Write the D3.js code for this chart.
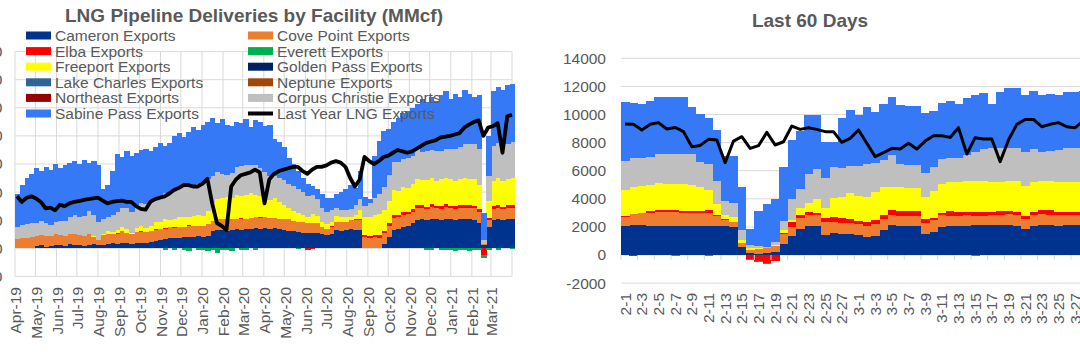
<!DOCTYPE html>
<html><head><meta charset="utf-8">
<script src="https://cdn.jsdelivr.net/npm/d3@7"></script>
<style>
html,body{margin:0;padding:0;background:#fff;overflow:hidden;}
svg{display:block;}
</style></head><body>
<svg id="c" width="1080" height="355"></svg>
<script>
// ===== LEFT CHART DATA (weekly, starting 2019-04-01) =====
const leftStart = "2019-04-01";
const monthLabels = ["Apr-19","May-19","Jun-19","Jul-19","Aug-19","Sep-19","Oct-19","Nov-19","Dec-19","Jan-20","Feb-20","Mar-20","Apr-20","May-20","Jun-20","Jul-20","Aug-20","Sep-20","Oct-20","Nov-20","Dec-20","Jan-21","Feb-21","Mar-21"];
const yTicks = [-2000,0,2000,4000,6000,8000,10000,12000,14000];

const cameronL = [0,0,20,50,150,200,120,180,250,200,
150,300,250,200,150,250,300,200,250,300,
350,300,400,350,300,400,350,400,450,500,
600,650,700,710,750,800,830,800,850,830,
900,1200,1300,1300,1250,1300,1350,1300,1350,1400,
1420,1400,1450,1400,1420,1350,1300,1250,1200,1150,
1100,1070,1070,1100,1000,950,1050,1300,1250,1300,
1350,1300,1300,0,0,0,0,300,800,1300,
1400,1500,1600,1800,2000,2050,2000,2100,2050,2000,
2100,2050,2000,2050,2100,2050,2000,1800,200,1500,
2000,2050,2000,2050,2050];
const covePointL = [650,700,700,750,700,750,750,700,750,750,
700,750,800,750,700,750,500,400,700,750,
700,750,800,750,700,750,800,750,750,800,
750,750,800,750,800,750,750,800,750,750,
800,750,800,750,800,750,750,800,750,750,
800,750,800,750,750,700,750,800,750,750,
800,750,750,700,500,450,500,600,650,600,
650,700,700,800,750,800,750,800,800,850,
800,850,850,800,850,800,800,850,800,800,
850,800,800,850,800,800,850,800,100,500,
800,850,800,800,850];
const elbaL = [0,0,0,0,0,0,0,0,0,0,
0,0,0,0,50,0,0,0,0,0,
0,50,0,0,0,0,50,0,0,50,
0,50,0,50,0,0,50,0,0,0,
50,0,0,50,0,0,0,50,0,0,
0,50,0,0,0,50,0,0,0,0,
0,-100,-50,0,0,0,50,0,0,0,
0,50,100,120,150,150,200,150,200,200,
150,200,150,200,250,200,150,200,150,200,
200,150,200,150,200,200,150,200,-500,150,
200,200,150,200,200];
const everettL = [0,0,0,0,0,0,0,0,0,0,
0,0,0,0,0,0,0,0,0,0,
0,0,0,0,0,0,0,0,0,0,
0,-100,0,-150,0,-100,-200,0,-150,-100,
-200,-100,-300,-150,-100,-200,0,-100,-150,0,
-100,0,0,0,0,0,0,0,0,-50,
0,-50,0,0,0,0,0,0,0,0,
0,0,0,0,0,0,0,0,0,0,
0,0,0,0,0,0,-100,-150,0,-100,
-150,-100,-200,-100,-150,-200,-150,-100,-200,-100,
0,-100,0,0,-50];
const freeportL = [0,0,0,0,0,0,0,0,0,0,
0,0,0,0,0,50,100,0,50,150,
100,200,300,250,100,300,400,300,400,500,
500,600,500,600,700,700,600,700,800,700,
900,1200,1400,1500,1600,1500,1700,1600,1700,1800,
1600,1500,1400,1300,1400,1200,1000,800,700,600,
500,400,600,500,400,300,300,400,300,300,
200,300,600,1300,1300,1400,1500,1500,1600,1800,
1700,1800,1700,1800,1850,1800,1900,1850,1800,1900,
1850,1900,1800,1850,1900,1850,1900,1700,0,1200,
1800,1900,1850,1900,1900];
const corpusL = [900,950,1000,1000,950,1000,900,800,900,1000,
1100,1200,1300,1300,1400,1600,1500,1300,1100,1000,
1200,1300,1400,1500,1500,1600,1600,1700,1700,1800,
1800,1900,2000,2000,2100,2100,2200,2100,2200,2300,
2300,2000,1900,1700,1600,1800,2000,2100,2100,2000,
2100,2000,1800,1700,1600,1700,1800,1700,1800,1700,
1600,1500,1400,1200,1000,900,800,600,500,500,
600,700,800,800,1000,1200,1400,1600,1800,2000,
2100,2000,2100,2000,2100,2000,2100,2000,2100,2000,
2100,2200,2300,2300,2400,2500,2500,2600,300,1800,
2500,2500,2600,2500,2600];
const sabineL = [2350,2850,3280,3500,3900,3550,4030,3920,4100,3750,
3950,3850,3850,3750,4000,3450,3800,4000,2100,2300,
3150,4100,3600,4050,4000,3750,3800,3950,3600,3550,
3850,3350,3500,3890,3850,3550,3870,4200,3800,4220,
4050,4150,3500,3900,3550,3350,3200,3050,3300,2650,
3180,3300,3250,3650,2630,2600,2350,1850,1550,1300,
1000,880,580,700,1000,1000,900,1000,1300,1500,
1700,1250,2000,600,300,3000,3800,4000,3300,2850,
3150,3250,3400,3400,3250,3750,3450,3800,3600,4000,
4100,3500,3900,3600,3900,3600,3400,3800,1900,2850,
3900,4000,3900,4150,4100];
const lastYearL = [3700,3300,3600,3700,3550,3300,2850,2900,2700,3100,
3000,3200,3300,3350,3450,3500,3550,3600,3400,3200,
3300,3350,3400,3300,3300,3000,2800,2750,3300,3500,
3600,3700,3900,4150,4300,4500,4500,4400,4400,4600,
4950,3200,1800,1600,1300,4400,4900,5200,5300,5400,
5600,5400,3200,4900,5300,5500,5600,5700,5800,5800,
5500,5300,5600,5800,5800,5900,6100,6200,6100,5800,
5000,4400,4900,6500,6200,6000,6200,6500,6600,6800,
7000,6900,6800,6900,7100,7300,7500,7600,7700,7900,
7950,8000,8100,8200,8600,8800,9000,9100,8000,8600,
8700,8900,6800,9400,9500];

// ===== RIGHT CHART DATA (daily, last 60 days) =====
const daysR = ["2-1","2-2","2-3","2-4","2-5","2-6","2-7","2-8","2-9","2-10","2-11","2-12","2-13","2-14","2-15","2-16","2-17","2-18","2-19","2-20","2-21","2-22","2-23","2-24","2-25","2-26","2-27","2-28",
"3-1","3-2","3-3","3-4","3-5","3-6","3-7","3-8","3-9","3-10","3-11","3-12","3-13","3-14","3-15","3-16","3-17","3-18","3-19","3-20","3-21","3-22","3-23","3-24","3-25","3-26","3-27","3-28"];
const cameronR = [2090,2130,2130,2060,2090,2090,2090,2060,2090,2090,2090,2060,2040,1960,550,120,70,120,240,780,1350,1850,2090,2090,1450,1540,1490,1490,1420,1300,1380,1780,2130,2060,2080,2080,1490,1610,1970,2060,2080,2080,2110,2130,2130,2130,2160,2080,1850,2080,2160,2130,2080,2110,2110,2100];
const covePointR = [640,760,830,950,950,950,950,950,870,870,890,740,450,360,280,235,360,350,400,710,660,800,730,730,870,780,760,760,760,790,800,760,720,740,720,720,760,880,880,740,720,770,690,670,720,720,730,770,690,770,730,720,770,740,740,750];
const elbaR = [30,-40,50,140,160,160,160,140,190,190,200,30,40,40,20,-300,-420,-550,-400,100,360,190,240,190,300,360,360,290,260,280,310,310,350,330,330,330,290,170,160,330,280,230,260,240,210,280,240,230,240,230,310,350,230,230,230,250];
const everettR = [-20,0,0,0,0,-20,-40,-30,0,0,-40,-20,0,0,0,-60,-70,-80,-60,-20,-20,0,0,0,0,0,0,0,0,-30,0,0,0,0,0,0,0,0,0,0,0,0,-40,0,0,0,0,0,0,0,0,0,0,0,0,0];
const freeportR = [1870,1930,1900,1830,1900,1850,1850,1880,1810,1710,1450,780,320,370,220,115,70,50,60,190,120,480,620,950,750,1350,1540,1850,1760,1780,1970,2010,1660,1690,1670,1640,1610,1890,2040,2090,2140,2190,2210,2230,2160,2090,2140,2190,2150,2140,2070,2070,2090,2140,2140,2120];
const lakeCharlesR = [0,0,0,0,0,0,0,0,0,-30,0,0,-30,0,0,0,0,0,0,0,0,0,0,0,0,0,0,0,0,0,0,0,0,-30,0,0,0,0,0,0,0,0,0,0,0,0,0,0,0,0,0,0,0,0,0,0];
const corpusR = [2050,2050,1960,2010,2080,2130,2130,2150,2220,1730,1840,1690,990,940,710,240,160,70,200,660,1470,1350,2060,2130,2130,2210,2020,1970,2130,2330,2110,1900,2260,1660,1600,1630,1660,1690,1760,1660,1660,1850,2080,2270,2370,2420,2370,2370,2420,2300,2080,2130,2300,2370,2420,2420];
const sabineR = [4200,3920,3870,3990,4090,4040,4090,4090,3370,3480,3260,3600,3220,3370,3030,1110,2470,3010,3080,3790,4220,4170,4210,3860,2520,1820,3555,3960,3630,4080,3580,3960,4100,4190,4200,4230,4300,4010,4030,4100,3870,4080,4040,3960,3160,3940,4270,4270,4040,4170,4040,4030,3890,3990,3980,4010];
const lastYearR = [9320,9300,8900,9300,9420,8970,9080,8780,7710,7800,8230,8180,6570,8110,8420,7590,7780,8730,7830,8060,9180,8940,9060,8940,8780,8780,8020,8300,8900,7950,7000,7280,7590,7540,7950,7540,8110,8490,8490,8370,9060,7190,8350,8250,8250,6640,8180,9300,9650,9650,9130,9300,9420,9130,9060,9560];

// ===== legend / series definitions =====
const legendItems = [
  ["Cameron Exports","#00338d","rect"],["Cove Point Exports","#ed7d31","rect"],
  ["Elba Exports","#ff0000","rect"],["Everett Exports","#00b050","rect"],
  ["Freeport Exports","#ffff00","rect"],["Golden Pass Exports","#002060","rect"],
  ["Lake Charles Exports","#2e6496","rect"],["Neptune Exports","#9e480e","rect"],
  ["Northeast Exports","#990000","rect"],["Corpus Christie Exports","#bfbfbf","rect"],
  ["Sabine Pass Exports","#3579f6","rect"],["Last Year LNG Exports","#000000","line"]
];
const colors = {cam:"#00338d",cove:"#ed7d31",elba:"#ff0000",everett:"#00b050",free:"#ffff00",lake:"#2e6496",corpus:"#bfbfbf",sabine:"#3579f6"};

// ===== drawing =====
const FONT = '"Liberation Sans", Arial, Helvetica, sans-serif';
const TXT = "#595959", GRID = "#d9d9d9";
const svg = d3.select("#c").style("font-family", FONT);
svg.append("rect").attr("width",1080).attr("height",355).attr("fill","#fff");

// ---------- LEFT ----------
const parse = d3.timeParse("%Y-%m-%d");
const t0 = parse(leftStart);
const weeks = cameronL.map((_, i) => d3.timeDay.offset(t0, 7 * i));
const xL = d3.scaleTime().domain([parse("2019-04-01"), parse("2021-04-01")]).range([15, 512]);
const yL = d3.scaleLinear().domain([-2000, 14000]).range([276.4, 51.6]);
const monthDates = monthLabels.map((_, i) => d3.timeMonth.offset(t0, i));

const gL = svg.append("g");
gL.selectAll(".hg").data(yTicks).join("line")
  .attr("x1", 15).attr("x2", 512).attr("y1", d => yL(d)).attr("y2", d => yL(d))
  .attr("stroke", GRID).attr("stroke-width", 1);
gL.selectAll(".vg").data(monthDates.concat([d3.timeMonth.offset(t0, 24)])).join("line")
  .attr("x1", d => xL(d)).attr("x2", d => xL(d)).attr("y1", yL(14000)).attr("y2", yL(-2000))
  .attr("stroke", GRID).attr("stroke-width", 1);
// y-axis labels sit mostly beyond the left edge, as in the reference
gL.selectAll(".yl").data(yTicks).join("text")
  .attr("x", 2.5).attr("y", d => yL(d)).attr("dy", "0.35em").attr("text-anchor", "end")
  .attr("font-size", 15.5).attr("fill", TXT).text(d => d);

const rowsL = weeks.map((d, i) => ({date: d, cam: cameronL[i], cove: covePointL[i], elba: elbaL[i], everett: everettL[i], free: freeportL[i], corpus: corpusL[i], sabine: sabineL[i]}));
const keys = ["cam","cove","elba","everett","free","corpus","sabine"];
const stackL = d3.stack().keys(keys).offset(d3.stackOffsetDiverging)(rowsL);
stackL.forEach(s => {
  gL.append("g").attr("fill", colors[s.key]).attr("shape-rendering", "crispEdges")
    .selectAll("rect").data(s.filter(d => d[1] !== d[0])).join("rect")
    .attr("x", d => xL(d.data.date))
    .attr("width", d => xL(d3.timeDay.offset(d.data.date, 7)) - xL(d.data.date) + 0.6)
    .attr("y", d => yL(Math.max(d[0], d[1])))
    .attr("height", d => Math.abs(yL(d[0]) - yL(d[1])));
});
const lineL = d3.line().x((d, i) => xL(d3.timeDay.offset(weeks[i], 3.5))).y(d => yL(d));
gL.append("path").datum(lastYearL).attr("d", lineL).attr("fill", "none")
  .attr("stroke", "#000").attr("stroke-width", 3.8).attr("stroke-linejoin", "round");

gL.selectAll(".xl").data(monthLabels).join("text")
  .attr("transform", (d, i) => `translate(${xL(monthDates[i]) + 1},287) rotate(-90)`)
  .attr("dy", "0.35em").attr("text-anchor", "end").attr("font-size", 15.5).attr("fill", TXT)
  .text(d => d);

// legend
const lg = svg.append("g");
legendItems.forEach((it, i) => {
  const col = i % 2, row = Math.floor(i / 2);
  const sx = col === 0 ? 26 : 248, ty = 35.5 + row * 15.6;
  if (it[2] === "rect") lg.append("rect").attr("x", sx).attr("y", ty - 4).attr("width", 25).attr("height", 8).attr("fill", it[1]);
  else lg.append("line").attr("x1", sx).attr("x2", sx + 25).attr("y1", ty).attr("y2", ty).attr("stroke", it[1]).attr("stroke-width", 4);
  lg.append("text").attr("x", sx + 29).attr("y", ty).attr("dy", "0.35em").attr("font-size", 15.5).attr("fill", TXT).text(it[0]);
});
svg.append("text").attr("x", 254).attr("y", 22).attr("text-anchor", "middle")
  .attr("font-size", 19).attr("font-weight", "bold").attr("fill", TXT)
  .text("LNG Pipeline Deliveries by Facility (MMcf)");

// ---------- RIGHT ----------
const xR = d3.scaleBand().domain(daysR).range([621, 621 + daysR.length * 8.333]).padding(0);
const yR = d3.scaleLinear().domain([-2000, 14000]).range([283.1, 58.3]);
const bw = xR.bandwidth();
const gR = svg.append("g");
gR.selectAll(".hg").data(yTicks).join("line")
  .attr("x1", 621).attr("x2", 1080).attr("y1", d => yR(d)).attr("y2", d => yR(d))
  .attr("stroke", GRID).attr("stroke-width", 1);
gR.selectAll(".yl").data(yTicks).join("text")
  .attr("x", 606).attr("y", d => yR(d)).attr("dy", "0.35em").attr("text-anchor", "end")
  .attr("font-size", 15.5).attr("fill", TXT).text(d => d);
const rowsR = daysR.map((d, i) => ({day: d, cam: cameronR[i], cove: covePointR[i], elba: elbaR[i], everett: everettR[i], free: freeportR[i], lake: lakeCharlesR[i], corpus: corpusR[i], sabine: sabineR[i]}));
const keysR = ["cam","cove","elba","everett","free","lake","corpus","sabine"];
const stackR = d3.stack().keys(keysR).offset(d3.stackOffsetDiverging)(rowsR);
stackR.forEach(s => {
  gR.append("g").attr("fill", colors[s.key]).attr("shape-rendering", "crispEdges")
    .selectAll("rect").data(s.filter(d => d[1] !== d[0])).join("rect")
    .attr("x", d => xR(d.data.day)).attr("width", bw + 0.5)
    .attr("y", d => yR(Math.max(d[0], d[1])))
    .attr("height", d => Math.abs(yR(d[0]) - yR(d[1])));
});
// tick marks every other category
gR.selectAll(".tk").data(daysR.filter((d, i) => i % 2 === 0)).join("line")
  .attr("x1", d => xR(d)).attr("x2", d => xR(d)).attr("y1", yR(0)).attr("y2", yR(0) + 5)
  .attr("stroke", GRID).attr("stroke-width", 1);
const lineR = d3.line().x((d, i) => xR(daysR[i]) + bw / 2).y(d => yR(d));
gR.append("path").datum(lastYearR).attr("d", lineR).attr("fill", "none")
  .attr("stroke", "#000").attr("stroke-width", 3).attr("stroke-linejoin", "round");
gR.selectAll(".xl").data(daysR.filter((d, i) => i % 2 === 0)).join("text")
  .attr("transform", d => `translate(${xR(d) + bw / 2},293) rotate(-90)`)
  .attr("dy", "0.35em").attr("text-anchor", "end").attr("font-size", 15.5).attr("fill", TXT)
  .text(d => d);
svg.append("text").attr("x", 810).attr("y", 27).attr("text-anchor", "middle")
  .attr("font-size", 19).attr("font-weight", "bold").attr("fill", TXT).text("Last 60 Days");
</script></body></html>
